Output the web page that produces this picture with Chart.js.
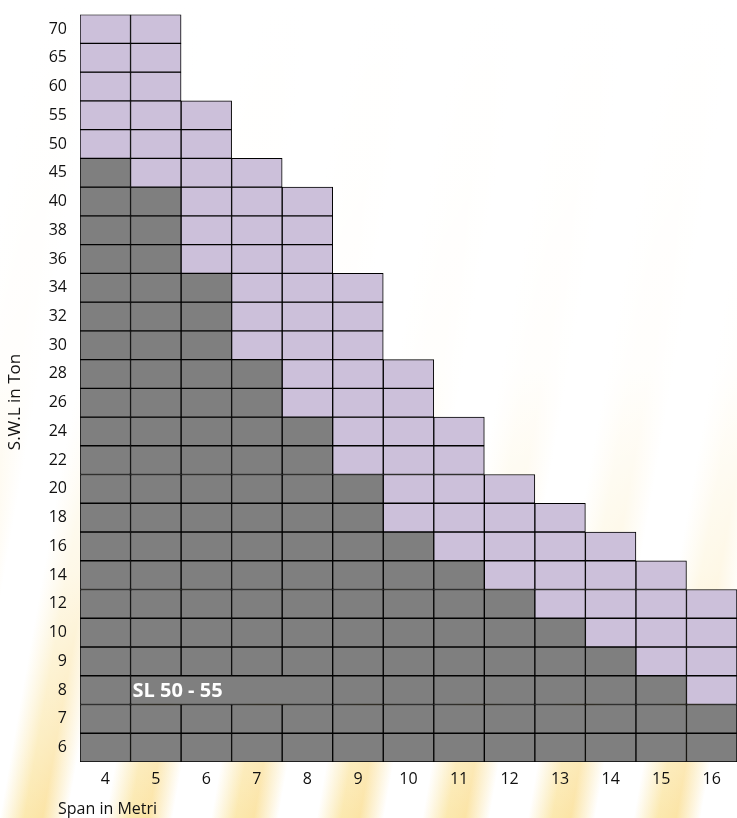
<!DOCTYPE html>
<html lang="en">
<head>
    <meta charset="UTF-8">
    <title>SWL vs Span</title>
    <script src="https://cdn.jsdelivr.net/npm/chart.js"></script>
    <style>
        html, body { margin: 0; padding: 0; }
        body {
            width: 737px; height: 818px; overflow: hidden;
            background:
                linear-gradient(to bottom, #fff 0%, rgba(255,255,255,0.97) 45%, rgba(255,255,255,0.75) 70%, rgba(255,255,255,0.35) 90%, rgba(255,255,255,0.1) 100%),
                repeating-linear-gradient(100deg, #fff 0px, #fff 38px, #fbe6a6 62px, #fbe19c 80px, #fff 104px);
        }
        #wrap { position: relative; width: 737px; height: 818px; }
    </style>
</head>
<body>
<div id="wrap"><canvas id="swlChart"></canvas></div>

<script>
    // S.W.L rows (ton) and span columns (metres)
    const swl = [6, 7, 8, 9, 10, 12, 14, 16, 18, 20, 22, 24, 26, 28, 30, 32, 34, 36, 38, 40, 45, 50, 55, 60, 65, 70];
    const spans = [4, 5, 6, 7, 8, 9, 10, 11, 12, 13, 14, 15, 16];
    // highest load available for each span
    const maxLoad = [70, 70, 55, 45, 40, 34, 28, 24, 20, 18, 16, 14, 12];
    // highest load still in the grey (standard) zone for each span
    const greyLoad = [45, 40, 34, 28, 24, 20, 16, 14, 12, 10, 9, 8, 7];

    // merged label cell (row 8, spans 5 to 8)
    const noteText = 'SL 50 - 55';
    const noteRow = 8;
    const noteSpans = [5, 8];

    const grey = '#7f7f7f';
    const lilac = '#ccc0da';

    function cellValue(s, t, j) {
        if (t > maxLoad[j]) return null;
        if (t === noteRow && s >= noteSpans[0] && s <= noteSpans[1]) {
            // one wide cell, carried by the first span of the merge
            return s === noteSpans[0] ? [noteSpans[0] - 0.5, noteSpans[1] + 0.5] : null;
        }
        return [s - 0.5, s + 0.5];
    }

    const datasets = spans.map((s, j) => ({
        label: 'Span ' + s,
        data: swl.map(t => cellValue(s, t, j)),
        backgroundColor: swl.map(t => t <= greyLoad[j] ? grey : lilac),
        borderColor: '#000',
        borderWidth: 1,
        borderSkipped: false,
        grouped: false,
        barPercentage: 1,
        categoryPercentage: 1
    }));

    const textPlugin = {
        id: 'texts',
        afterDatasetsDraw(chart) {
            const { ctx, scales } = chart;
            const x = scales.x.getPixelForValue(noteSpans[0] - 0.5) + 2;
            const y = scales.y.getPixelForValue(swl.indexOf(noteRow));
            ctx.save();
            ctx.font = 'bold 20px "Open Sans", sans-serif';
            ctx.fillStyle = '#fff';
            ctx.textBaseline = 'middle';
            ctx.fillText(noteText, x, y + 1);
            ctx.restore();
        },
        afterDraw(chart) {
            const { ctx } = chart;
            ctx.save();
            ctx.fillStyle = '#111';
            ctx.font = '16px "Open Sans", sans-serif';
            ctx.textBaseline = 'alphabetic';
            ctx.fillText('Span in Metri', 58, 814);
            // y title, a little below the middle as in the original
            ctx.translate(15, 402);
            ctx.rotate(-Math.PI / 2);
            ctx.font = '17px "Open Sans", sans-serif';
            ctx.textAlign = 'center';
            ctx.textBaseline = 'middle';
            ctx.fillText('S.W.L in Ton', 0, 0);
            ctx.restore();
        }
    };

    new Chart(document.getElementById('swlChart'), {
        type: 'bar',
        data: { labels: swl.map(String), datasets },
        options: {
            indexAxis: 'y',
            responsive: true,
            maintainAspectRatio: false,
            animation: false,
            layout: { padding: { top: 7, right: 0, left: 0, bottom: 0 } },
            plugins: { legend: { display: false }, tooltip: { enabled: false } },
            scales: {
                x: {
                    type: 'linear',
                    min: spans[0] - 0.5,
                    max: spans[spans.length - 1] + 0.5,
                    afterBuildTicks: axis => { axis.ticks = spans.map(v => ({ value: v })); },
                    afterFit: axis => { axis.height = 56; },
                    grid: { display: false },
                    border: { display: false },
                    ticks: { color: '#111', font: { family: 'Open Sans', size: 16 }, padding: 0 }
                },
                y: {
                    reverse: true,
                    afterFit: axis => { axis.width = 80; },
                    grid: { display: false },
                    border: { display: false },
                    ticks: { color: '#111', font: { family: 'Open Sans', size: 16 }, padding: 5 }
                }
            }
        },
        plugins: [textPlugin]
    });
</script>
</body>
</html>
